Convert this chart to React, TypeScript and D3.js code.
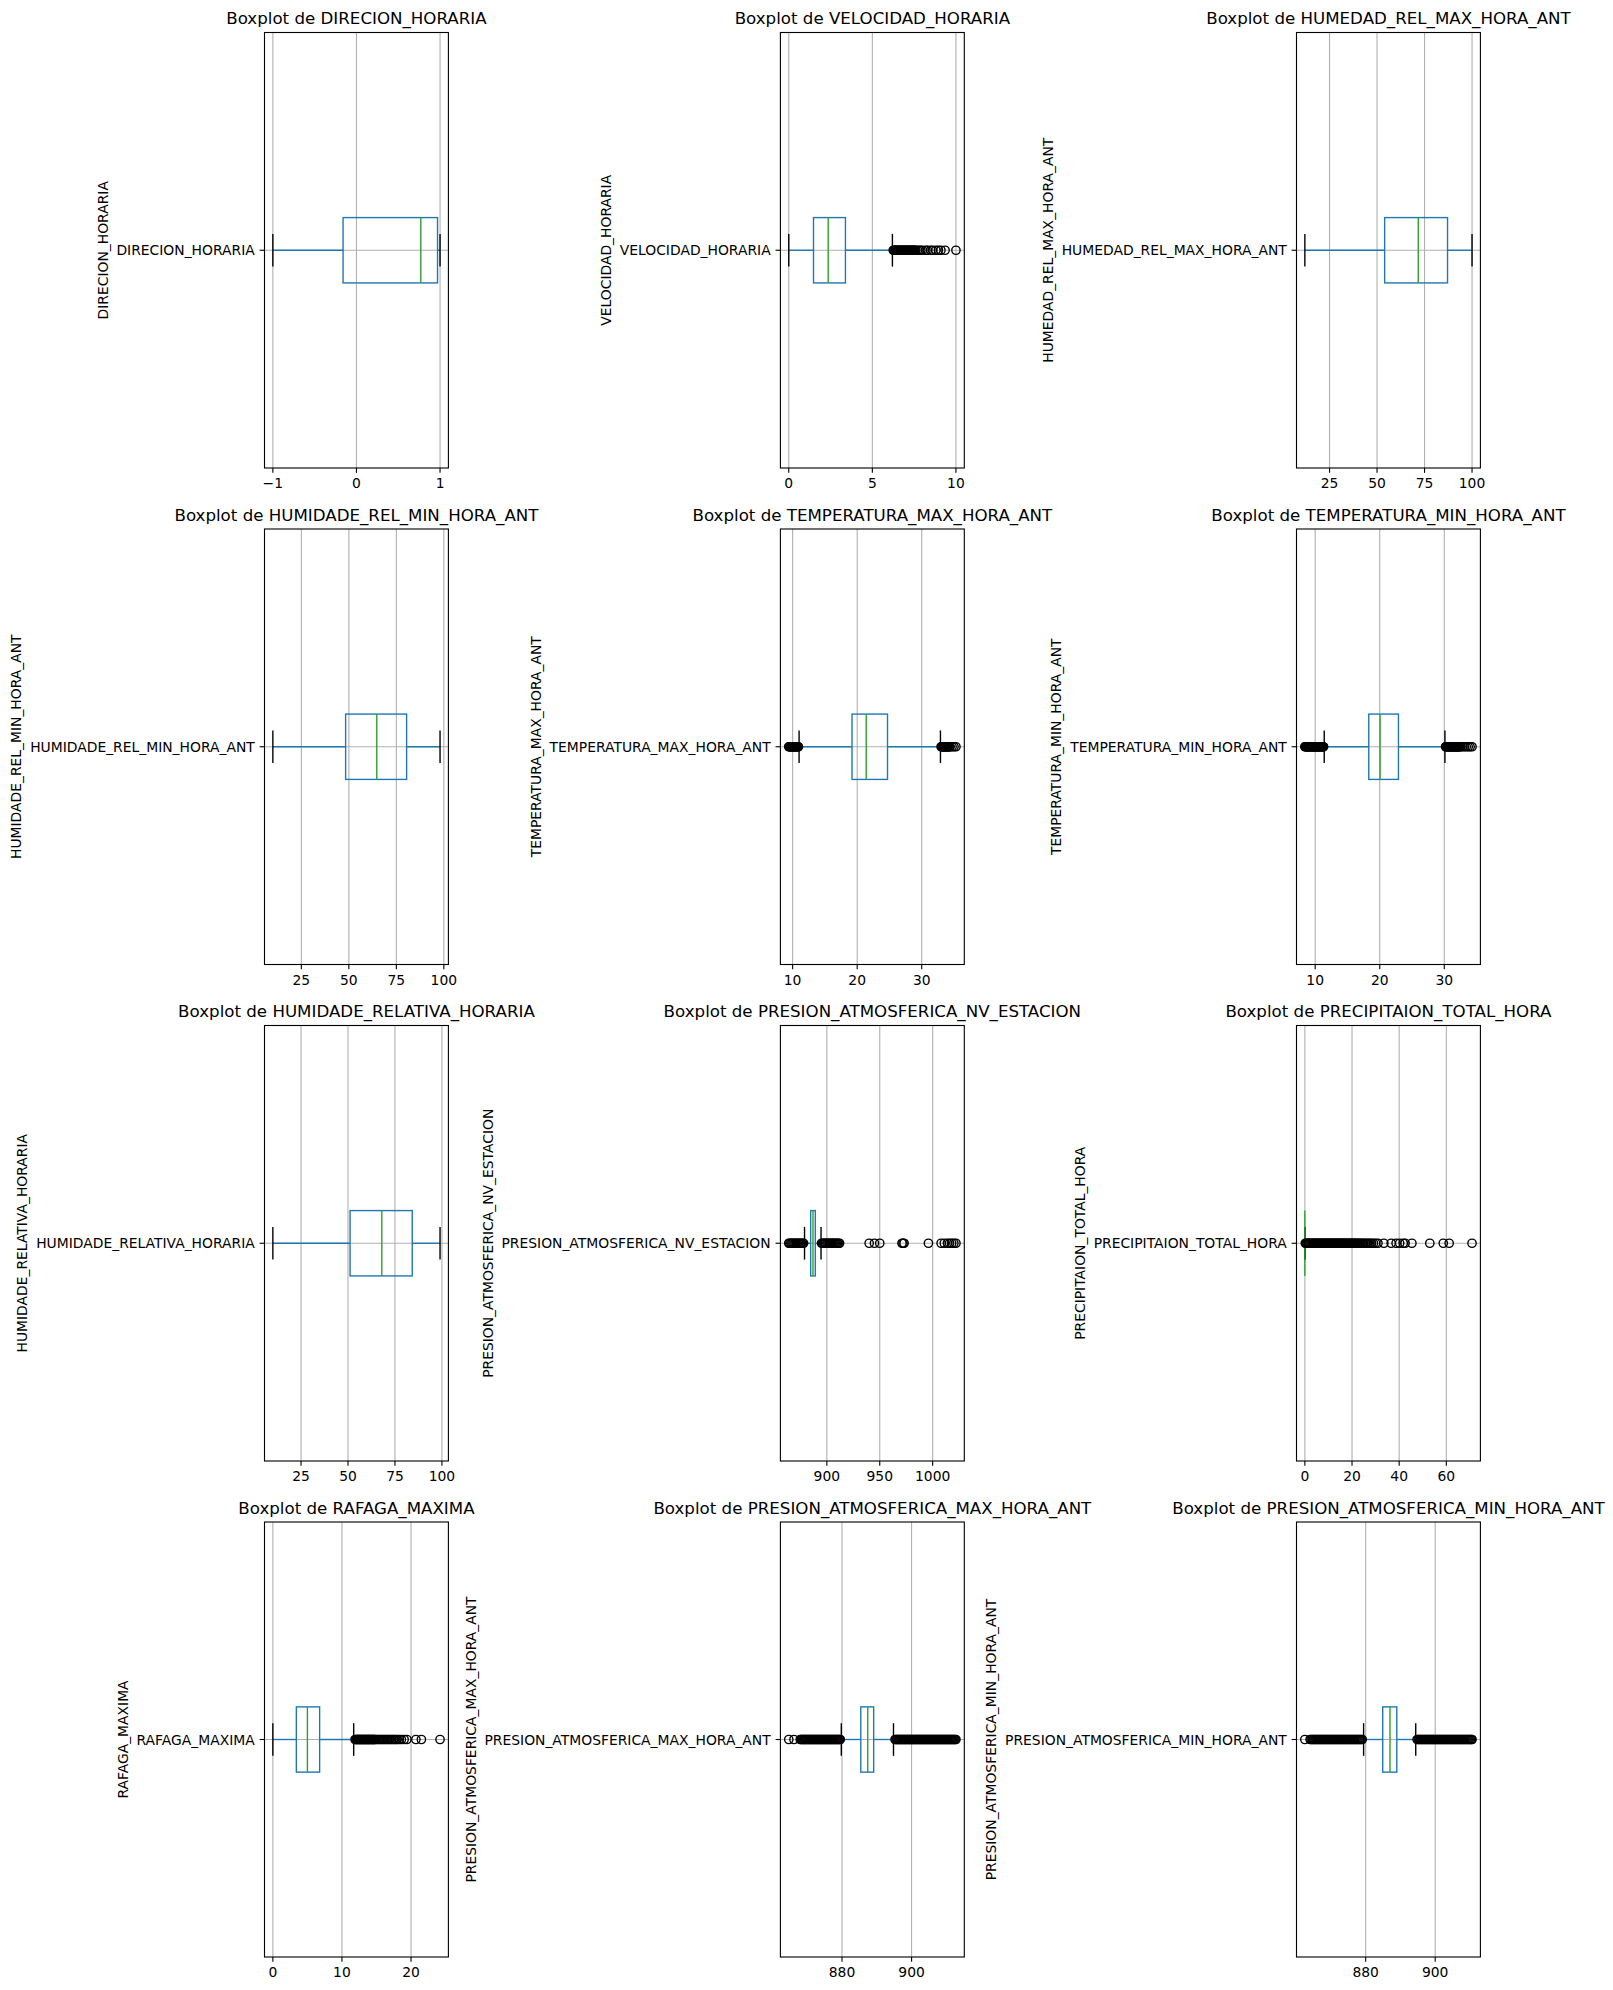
import React from 'react';
import * as d3 from 'd3';

// column names, one boxplot per column
const columns = [
  'DIRECION_HORARIA', 'VELOCIDAD_HORARIA', 'HUMEDAD_REL_MAX_HORA_ANT',
  'HUMIDADE_REL_MIN_HORA_ANT', 'TEMPERATURA_MAX_HORA_ANT', 'TEMPERATURA_MIN_HORA_ANT',
  'HUMIDADE_RELATIVA_HORARIA', 'PRESION_ATMOSFERICA_NV_ESTACION', 'PRECIPITAION_TOTAL_HORA',
  'RAFAGA_MAXIMA', 'PRESION_ATMOSFERICA_MAX_HORA_ANT', 'PRESION_ATMOSFERICA_MIN_HORA_ANT',
];

// box statistics
const q1Values = [-0.16, 1.48, 54.0, 48.3, 19.2, 18.3, 51.1, 884.7, 0, 3.4, 885.4, 884.9];
const medianValues = [0.77, 2.36, 71.7, 64.7, 21.4, 20.05, 68.0, 886.9, 0, 5.0, 887.4, 887.0];
const q3Values = [0.97, 3.39, 87.1, 80.4, 24.7, 22.9, 84.2, 889.1, 0, 6.77, 889.1, 888.95];
const whiskerLow = [-1, 0, 12, 10, 11.0, 11.4, 10, 878.9, 0, 0, 879.8, 879.4];
const whiskerHigh = [1, 6.2, 100, 98, 32.9, 30.1, 99, 894.5, 0, 11.7, 894.8, 894.4];

// outliers
const fliersDireccion: number[] = [];
const fliersVelocidad = [
  6.25, 6.3, 6.35, 6.4, 6.45, 6.5, 6.55, 6.6, 6.65, 6.7, 6.75, 6.8, 6.85, 6.9, 6.95, 7.0, 7.05, 7.1,
  7.15, 7.2, 7.25, 7.3, 7.35, 7.4, 7.45, 7.5, 7.55, 7.6, 7.7, 7.8, 7.9, 8.0, 8.2, 8.3, 8.5, 8.6, 8.8,
  8.95, 9.1, 9.35, 10.0,
];
const fliersHumedadMax: number[] = [];
const fliersHumedadMin: number[] = [];
const fliersTempMax = [
  9.4, 9.5, 9.6, 9.7, 9.8, 9.9, 10.0, 10.1, 10.2, 10.3, 10.4, 10.5, 10.6, 10.7, 10.8, 10.9,
  33.0, 33.1, 33.2, 33.3, 33.4, 33.5, 33.6, 33.7, 33.8, 33.9, 34.0, 34.1, 34.2, 34.3, 34.4, 34.7, 35.0, 35.3,
];
const fliersTempMin = [
  8.4, 8.5, 8.6, 8.7, 8.8, 8.9, 9.0, 9.1, 9.2, 9.3, 9.4, 9.5, 9.6, 9.7, 9.8, 9.9, 10.0, 10.1, 10.2,
  10.3, 10.4, 10.5, 10.6, 10.7, 10.8, 10.9, 11.0, 11.1, 11.2, 11.3,
  30.2, 30.3, 30.4, 30.5, 30.6, 30.7, 30.8, 30.9, 31.0, 31.1, 31.2, 31.3, 31.4, 31.5, 31.6, 31.7,
  31.8, 31.9, 32.0, 32.1, 32.2, 32.3, 32.4, 32.5, 32.8, 33.1, 33.4, 33.7, 34.0, 34.3,
];
const fliersHumidadeRel: number[] = [];
const fliersPresionNv = [
  864, 865, 866, 867, 868, 869, 870, 871, 872, 873, 874, 875, 876, 877, 878,
  895, 896, 897, 898, 899, 900, 901, 902, 903, 904, 905, 906, 907, 908, 909, 910, 911, 912,
  940, 945, 950, 971, 972, 973, 996, 1008, 1011, 1014, 1016, 1018, 1020, 1022,
];
const fliersPrecipitacion = [
  0.2, 0.6, 1.0, 1.4, 1.8, 2.2, 2.6, 3.0, 3.4, 3.8, 4.2, 4.6, 5.0, 5.4, 5.8, 6.2, 6.6, 7.0, 7.4, 7.8,
  8.2, 8.6, 9.0, 9.4, 9.8, 10.2, 10.6, 11.0, 11.4, 11.8, 12.2, 12.6, 13.0, 13.4, 13.8, 14.2, 14.6,
  15.0, 15.4, 15.8, 16.2, 16.6, 17.0, 17.4, 17.8, 18.2, 18.6, 19.0, 19.4, 19.8, 20.2, 20.6, 21.0,
  21.4, 21.8, 22.3, 22.8, 23.3, 23.8, 24.4, 25.0, 25.6, 26.2, 26.9, 27.6, 28.3, 29.1, 30.0, 31.0,
  33.5, 36.6, 38.7, 40.2, 41.7, 42.5, 45.4, 53.0, 58.7, 61.2, 70.9,
];
const fliersRafaga = [
  11.9, 12.0, 12.1, 12.2, 12.3, 12.4, 12.5, 12.6, 12.7, 12.8, 12.9, 13.0, 13.1, 13.2, 13.3, 13.4,
  13.5, 13.6, 13.7, 13.8, 13.9, 14.0, 14.1, 14.2, 14.3, 14.4, 14.5, 14.6, 14.7, 14.8,
  15.0, 15.2, 15.4, 15.6, 15.8, 16.0, 16.2, 16.4, 16.6, 16.8, 17.0, 17.2, 17.4, 17.6, 17.8, 18.0,
  18.3, 18.6, 19.0, 19.4, 20.7, 21.5, 24.2,
];
const fliersPresionMax = [
  864.7, 866.2,
  868.0, 868.25, 868.5, 868.75, 869.0, 869.25, 869.5, 869.75, 870.0, 870.25, 870.5, 870.75, 871.0,
  871.25, 871.5, 871.75, 872.0, 872.25, 872.5, 872.75, 873.0, 873.25, 873.5, 873.75, 874.0, 874.25,
  874.5, 874.75, 875.0, 875.25, 875.5, 875.75, 876.0, 876.25, 876.5, 876.75, 877.0, 877.25, 877.5,
  877.75, 878.0, 878.25, 878.5, 878.75, 879.0, 879.25, 879.5,
  895.25, 895.5, 895.75, 896.0, 896.25, 896.5, 896.75, 897.0, 897.25, 897.5, 897.75, 898.0, 898.25,
  898.5, 898.75, 899.0, 899.25, 899.5, 899.75, 900.0, 900.25, 900.5, 900.75, 901.0, 901.25, 901.5,
  901.75, 902.0, 902.25, 902.5, 902.75, 903.0, 903.25, 903.5, 903.75, 904.0, 904.25, 904.5, 904.75,
  905.0, 905.25, 905.5, 905.75, 906.0, 906.25, 906.5, 906.75, 907.0, 907.25, 907.5, 907.75, 908.0,
  908.25, 908.5, 908.75, 909.0, 909.25, 909.5, 909.75, 910.0, 910.25, 910.5, 910.75, 911.0, 911.25,
  911.5, 911.75, 912.0, 912.25, 912.5, 912.75,
];
const fliersPresionMin = [
  862.5,
  864.0, 864.3, 864.6, 864.9, 865.2, 865.5, 865.8, 866.1, 866.4, 866.7, 867.0, 867.3, 867.6, 867.9,
  868.2, 868.5, 868.8, 869.1, 869.4, 869.7, 870.0, 870.3, 870.6, 870.9, 871.2, 871.5, 871.8, 872.1,
  872.4, 872.7, 873.0, 873.3, 873.6, 873.9, 874.2, 874.5, 874.8, 875.1, 875.4, 875.7, 876.0, 876.3,
  876.6, 876.9, 877.2, 877.5, 877.8, 878.1, 878.4, 878.7, 879.0,
  894.8, 895.1, 895.4, 895.7, 896.0, 896.3, 896.6, 896.9, 897.2, 897.5, 897.8, 898.1, 898.4, 898.7,
  899.0, 899.3, 899.6, 899.9, 900.2, 900.5, 900.8, 901.1, 901.4, 901.7, 902.0, 902.3, 902.6, 902.9,
  903.2, 903.5, 903.8, 904.1, 904.4, 904.7, 905.0, 905.3, 905.6, 905.9, 906.2, 906.5, 906.8, 907.1,
  907.4, 907.7, 908.0, 908.3, 908.6, 908.9, 909.2, 909.5, 909.8, 910.1, 910.4, 910.6,
];

const fliers = [
  fliersDireccion, fliersVelocidad, fliersHumedadMax,
  fliersHumedadMin, fliersTempMax, fliersTempMin,
  fliersHumidadeRel, fliersPresionNv, fliersPrecipitacion,
  fliersRafaga, fliersPresionMax, fliersPresionMin,
];

// tick labels of each x axis
const ticks = [
  [-1, 0, 1], [0, 5, 10], [25, 50, 75, 100],
  [25, 50, 75, 100], [10, 20, 30], [10, 20, 30],
  [25, 50, 75, 100], [900, 950, 1000], [0, 20, 40, 60],
  [0, 10, 20], [880, 900], [880, 900],
];

// layout of the axes grid on the figure
const rowTop = [32.5, 529, 1025.5, 1522];
const rowBottom = [468, 964.5, 1461, 1957];
const colLeft = [264.5, 780.4, 1296.5];
const colRight = [448.4, 964.3, 1480.4];

const FONT = '"DejaVu Sans", sans-serif';
const TICK_FS = 13.89;
const TITLE_FS = 16.67;
const TICK_LEN = 4.86;
const TICK_PAD = 4.86;

const ctx = document.createElement('canvas').getContext('2d');
const textWidth = (t: string, size: number) => {
  if (!ctx) return t.length * size * 0.6;
  ctx.font = `${size}px "DejaVu Sans"`;
  return ctx.measureText(t).width;
};

const fmt = (d: number) => (d < 0 ? '\u2212' + Math.abs(d) : String(d));

const Panel: React.FC<{ i: number }> = ({ i }) => {
  const row = Math.floor(i / 3);
  const col = i % 3;
  const left = colLeft[col];
  const right = colRight[col];
  const top = rowTop[row];
  const bottom = rowBottom[row];
  const fl = fliers[i];
  const lo = Math.min(whiskerLow[i], ...fl);
  const hi = Math.max(whiskerHigh[i], ...fl);
  const pad = (hi - lo) * 0.05;
  const x = d3.scaleLinear().domain([lo - pad, hi + pad]).range([left, right]);
  const y = d3.scaleLinear().domain([0.5, 1.5]).range([bottom, top]);
  const cy = y(1);
  const name = columns[i];
  const labelW = textWidth(name, TICK_FS);
  const ylabelX = left - TICK_LEN - TICK_PAD - labelW - 5.56 - 3.28;
  const blue = '#1f77b4';

  return (
    <g>
      {/* grid */}
      {ticks[i].map(t => (
        <line key={'g' + t} x1={x(t)} x2={x(t)} y1={top} y2={bottom} stroke="#b0b0b0" strokeWidth={1.1} />
      ))}
      <line x1={left} x2={right} y1={cy} y2={cy} stroke="#b0b0b0" strokeWidth={1.1} />

      {/* box */}
      <rect x={x(q1Values[i])} y={y(1.075)} width={Math.max(0, x(q3Values[i]) - x(q1Values[i]))}
        height={y(0.925) - y(1.075)} fill="none" stroke={blue} strokeWidth={1.39} />
      {/* whiskers */}
      <line x1={x(whiskerLow[i])} x2={x(q1Values[i])} y1={cy} y2={cy} stroke={blue} strokeWidth={1.39} />
      <line x1={x(q3Values[i])} x2={x(whiskerHigh[i])} y1={cy} y2={cy} stroke={blue} strokeWidth={1.39} />
      {/* caps */}
      {[whiskerLow[i], whiskerHigh[i]].map((w, k) => (
        <line key={'c' + k} x1={x(w)} x2={x(w)} y1={y(1.0375)} y2={y(0.9625)} stroke="#000" strokeWidth={1.39} />
      ))}
      {/* median */}
      <line x1={x(medianValues[i])} x2={x(medianValues[i])} y1={y(1.075)} y2={y(0.925)} stroke="#2ca02c" strokeWidth={1.39} />
      {/* fliers */}
      {fl.map((v, k) => (
        <circle key={'f' + k} cx={x(v)} cy={cy} r={4.17} fill="none" stroke="#000" strokeWidth={1.39} />
      ))}

      {/* spines */}
      <rect x={left} y={top} width={right - left} height={bottom - top} fill="none" stroke="#000" strokeWidth={1.11} />

      {/* x ticks */}
      {ticks[i].map(t => (
        <g key={'t' + t}>
          <line x1={x(t)} x2={x(t)} y1={bottom} y2={bottom + TICK_LEN} stroke="#000" strokeWidth={1.11} />
          <text x={x(t)} y={bottom + TICK_LEN + TICK_PAD + 10.6} textAnchor="middle"
            fontSize={TICK_FS} fontFamily={FONT}>{fmt(t)}</text>
        </g>
      ))}
      {/* y tick */}
      <line x1={left - TICK_LEN} x2={left} y1={cy} y2={cy} stroke="#000" strokeWidth={1.11} />
      <text x={left - TICK_LEN - TICK_PAD} y={cy} textAnchor="end" dominantBaseline="central"
        fontSize={TICK_FS} fontFamily={FONT}>{name}</text>
      {/* y label */}
      <text x={ylabelX} y={cy} transform={`rotate(-90, ${ylabelX}, ${cy})`} textAnchor="middle"
        fontSize={TICK_FS} fontFamily={FONT}>{name}</text>
      {/* title */}
      <text x={(left + right) / 2} y={top - 8.33} textAnchor="middle" fontSize={TITLE_FS} fontFamily={FONT}>
        {`Boxplot de ${name}`}
      </text>
    </g>
  );
};

const App: React.FC = () => {
  return (
    <svg width={1613} height={1990} style={{ position: 'absolute', left: 0, top: 0, background: '#fff' }}>
      <rect width={1613} height={1990} fill="#fff" />
      {columns.map((c, i) => (
        <Panel key={c} i={i} />
      ))}
    </svg>
  );
};

export default App;
